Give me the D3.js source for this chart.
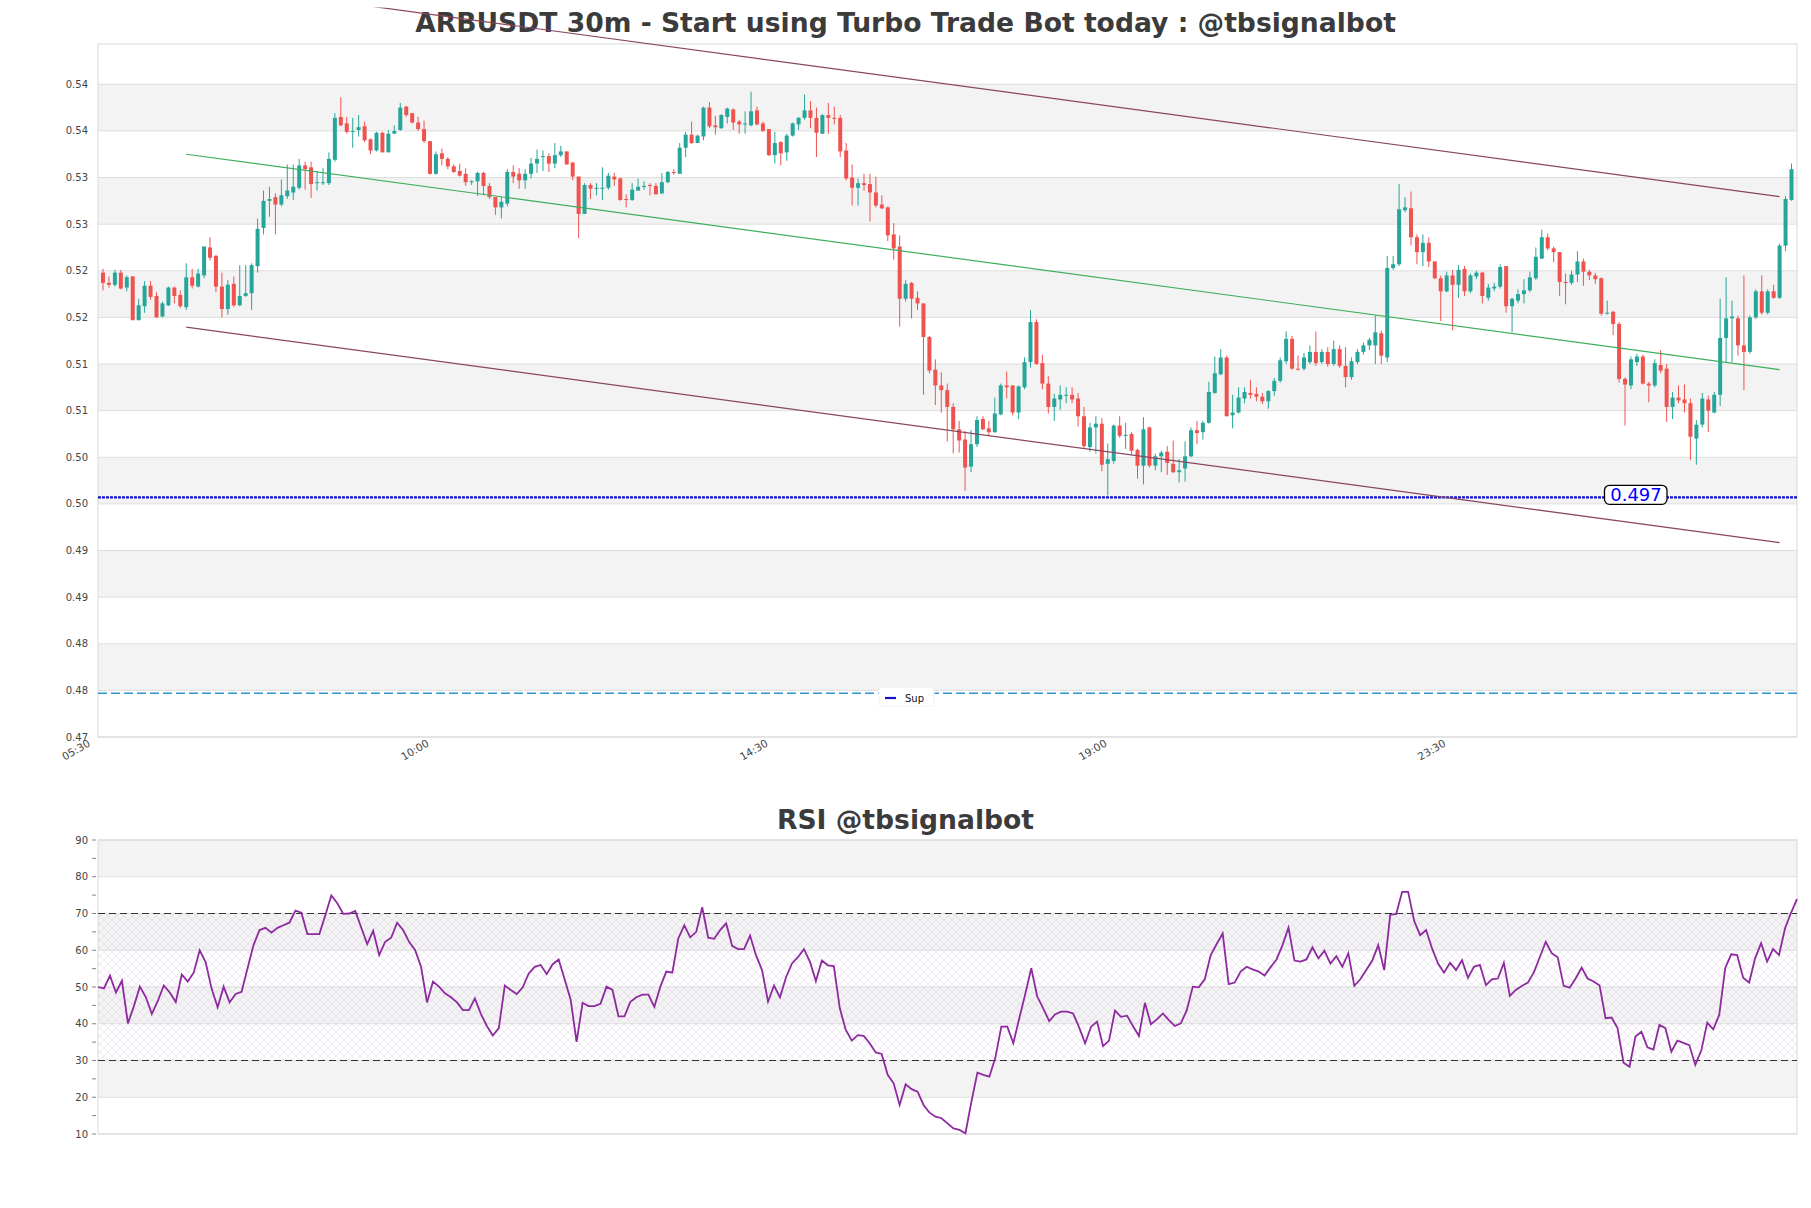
<!DOCTYPE html>
<html><head><meta charset="utf-8">
<script src="https://cdn.jsdelivr.net/npm/d3@7/dist/d3.min.js"></script>
<style>body{margin:0;background:#fff;} svg{display:block;}</style>
</head><body>
<svg id="c" width="1811" height="1208"></svg>
<script>
// ---------------- DATA ----------------
const openP = [
.5198,.5187,.5185,.5198,.5182,.5194,.5147,.5162,.5184,.5173,
.5151,.5163,.5182,.5174,.5161,.5193,.5183,.5195,.5225,.5216,
.5183,.5159,.5186,.5163,.5173,.5176,.5205,.5246,.5275,.5279,
.5271,.5280,.5284,.5289,.5313,.5311,.5294,.5294,.5294,.5319,
.5365,.5358,.5349,.5351,.5355,.5341,.5329,.5348,.5327,.5347,
.5351,.5376,.5369,.5359,.5352,.5339,.5304,.5326,.5320,.5312,
.5307,.5304,.5295,.5296,.5305,.5291,.5279,.5268,.5272,.5306,
.5304,.5297,.5304,.5315,.5322,.5323,.5315,.5324,.5328,.5316,
.5301,.5261,.5292,.5288,.5288,.5289,.5301,.5299,.5277,.5276,
.5286,.5290,.5292,.5291,.5283,.5295,.5306,.5304,.5332,.5346,
.5337,.5344,.5375,.5356,.5353,.5365,.5373,.5360,.5357,.5356,
.5372,.5358,.5352,.5324,.5338,.5327,.5345,.5357,.5364,.5372,
.5364,.5347,.5367,.5364,.5364,.5329,.5300,.5289,.5294,.5293,
.5284,.5271,.5268,.5239,.5226,.5170,.5187,.5171,.5165,.5129,
.5094,.5077,.5072,.5054,.5030,.5019,.4990,.5014,.5041,.5031,
.5027,.5046,.5077,.5077,.5048,.5075,.5102,.5145,.5101,.5079,
.5054,.5062,.5066,.5067,.5063,.5044,.5011,.5032,.5036,.4993,
.4996,.5034,.5023,.5025,.5008,.4991,.5032,.4991,.5001,.5006,
.4993,.4984,.4988,.5001,.5029,.5027,.5037,.5069,.5089,.5107,
.5045,.5048,.5063,.5069,.5068,.5065,.5060,.5071,.5082,.5103,
.5127,.5095,.5095,.5102,.5113,.5102,.5113,.5100,.5116,.5098,
.5086,.5102,.5113,.5120,.5120,.5133,.5107,.5203,.5207,.5265,
.5267,.5236,.5220,.5230,.5210,.5192,.5178,.5195,.5185,.5202,
.5178,.5194,.5198,.5171,.5181,.5183,.5205,.5162,.5168,.5175,
.5179,.5192,.5213,.5236,.5224,.5220,.5188,.5187,.5196,.5210,
.5199,.5195,.5192,.5154,.5156,.5143,.5084,.5077,.5102,.5108,
.5079,.5077,.5099,.5095,.5054,.5064,.5062,.5058,.5020,.5035,
.5062,.5048,.5067,.5128,.5149,.5149,.5120,.5113,.5150,.5178,
.5155,.5178,.5171,.5227,.5276];
const highP = [
.5202,.5194,.5201,.5201,.5195,.5194,.5170,.5189,.5189,.5177,
.5167,.5183,.5183,.5179,.5208,.5202,.5202,.5226,.5236,.5217,
.5198,.5190,.5194,.5206,.5206,.5208,.5256,.5286,.5290,.5283,
.5298,.5314,.5314,.5320,.5317,.5317,.5307,.5310,.5327,.5369,
.5386,.5365,.5364,.5367,.5360,.5342,.5349,.5349,.5351,.5356,
.5380,.5377,.5369,.5365,.5361,.5339,.5328,.5331,.5322,.5314,
.5315,.5310,.5297,.5306,.5306,.5294,.5279,.5279,.5309,.5313,
.5310,.5309,.5321,.5330,.5329,.5326,.5337,.5334,.5328,.5317,
.5301,.5294,.5294,.5294,.5311,.5305,.5305,.5300,.5282,.5294,
.5299,.5296,.5294,.5294,.5305,.5307,.5309,.5337,.5349,.5360,
.5346,.5376,.5381,.5366,.5368,.5375,.5374,.5362,.5371,.5392,
.5376,.5360,.5352,.5349,.5339,.5347,.5359,.5365,.5389,.5382,
.5375,.5368,.5380,.5376,.5367,.5337,.5314,.5299,.5304,.5304,
.5301,.5281,.5269,.5251,.5238,.5190,.5188,.5178,.5165,.5130,
.5105,.5091,.5079,.5058,.5039,.5028,.5029,.5044,.5044,.5039,
.5064,.5079,.5092,.5077,.5077,.5107,.5158,.5148,.5110,.5087,
.5068,.5077,.5075,.5075,.5069,.5054,.5037,.5044,.5042,.5015,
.5035,.5044,.5037,.5027,.5009,.5043,.5033,.5004,.5007,.5012,
.5018,.4998,.5017,.5032,.5039,.5039,.5081,.5108,.5116,.5109,
.5067,.5075,.5075,.5083,.5075,.5069,.5072,.5085,.5107,.5135,
.5130,.5109,.5112,.5120,.5135,.5116,.5118,.5125,.5120,.5118,
.5107,.5116,.5123,.5128,.5152,.5136,.5216,.5216,.5293,.5279,
.5285,.5239,.5239,.5236,.5210,.5195,.5199,.5201,.5206,.5205,
.5197,.5200,.5199,.5186,.5187,.5207,.5205,.5171,.5180,.5191,
.5199,.5225,.5244,.5240,.5226,.5220,.5197,.5200,.5221,.5213,
.5201,.5198,.5193,.5168,.5157,.5145,.5086,.5108,.5111,.5110,
.5081,.5105,.5115,.5100,.5070,.5077,.5078,.5063,.5040,.5069,
.5066,.5070,.5170,.5193,.5168,.5152,.5195,.5152,.5180,.5195,
.5180,.5185,.5229,.5280,.5315];
const lowP = [
.5179,.5182,.5183,.5180,.5178,.5147,.5147,.5155,.5169,.5150,
.5150,.5162,.5165,.5160,.5158,.5181,.5182,.5192,.5211,.5177,
.5150,.5153,.5161,.5162,.5172,.5158,.5198,.5239,.5258,.5239,
.5269,.5277,.5276,.5287,.5287,.5278,.5286,.5292,.5292,.5317,
.5355,.5347,.5332,.5344,.5338,.5325,.5328,.5327,.5327,.5347,
.5350,.5365,.5358,.5350,.5337,.5303,.5303,.5313,.5309,.5305,
.5301,.5291,.5292,.5280,.5281,.5277,.5260,.5256,.5269,.5294,
.5288,.5288,.5299,.5305,.5307,.5306,.5310,.5322,.5314,.5297,
.5235,.5261,.5277,.5281,.5276,.5287,.5291,.5275,.5268,.5275,
.5286,.5287,.5281,.5282,.5282,.5294,.5303,.5304,.5322,.5336,
.5337,.5340,.5353,.5346,.5352,.5358,.5351,.5347,.5347,.5355,
.5356,.5349,.5323,.5315,.5313,.5318,.5344,.5351,.5362,.5353,
.5322,.5347,.5347,.5357,.5322,.5297,.5270,.5270,.5286,.5253,
.5268,.5266,.5232,.5212,.5140,.5167,.5149,.5158,.5067,.5090,
.5056,.5048,.5017,.5004,.5005,.4964,.4984,.5011,.5029,.5023,
.5026,.5045,.5063,.5045,.5041,.5073,.5096,.5099,.5073,.5047,
.5039,.5051,.5058,.5058,.5033,.5010,.5006,.5004,.4985,.4959,
.4993,.5021,.5009,.5003,.4977,.4971,.4989,.4986,.4984,.4981,
.4983,.4973,.4974,.5000,.5014,.5019,.5036,.5068,.5088,.5044,
.5031,.5047,.5058,.5063,.5060,.5057,.5052,.5066,.5080,.5100,
.5094,.5093,.5093,.5100,.5098,.5100,.5097,.5098,.5096,.5075,
.5083,.5100,.5110,.5115,.5100,.5100,.5102,.5201,.5205,.5263,
.5227,.5207,.5205,.5204,.5191,.5146,.5177,.5136,.5171,.5173,
.5176,.5191,.5165,.5168,.5178,.5181,.5155,.5134,.5165,.5165,
.5177,.5190,.5213,.5222,.5209,.5173,.5164,.5185,.5188,.5184,
.5190,.5186,.5152,.5153,.5131,.5080,.5034,.5073,.5098,.5078,
.5059,.5075,.5090,.5038,.5041,.5058,.5048,.4997,.4992,.5032,
.5027,.5047,.5055,.5102,.5102,.5109,.5072,.5111,.5148,.5153,
.5153,.5170,.5170,.5221,.5275];
const closeP = [
.5187,.5185,.5198,.5181,.5193,.5147,.5163,.5184,.5172,.5150,
.5165,.5182,.5173,.5162,.5193,.5184,.5197,.5226,.5214,.5183,
.5159,.5185,.5163,.5173,.5176,.5206,.5245,.5275,.5277,.5271,
.5281,.5286,.5290,.5313,.5309,.5293,.5295,.5295,.5320,.5364,
.5356,.5349,.5350,.5354,.5340,.5329,.5348,.5327,.5347,.5350,
.5375,.5367,.5359,.5352,.5339,.5304,.5325,.5320,.5312,.5306,
.5302,.5295,.5296,.5305,.5291,.5279,.5268,.5274,.5306,.5301,
.5297,.5304,.5315,.5320,.5323,.5315,.5324,.5328,.5314,.5301,
.5261,.5292,.5288,.5289,.5289,.5302,.5298,.5276,.5276,.5287,
.5290,.5291,.5291,.5282,.5295,.5306,.5305,.5332,.5346,.5337,
.5345,.5375,.5355,.5354,.5367,.5374,.5359,.5357,.5358,.5371,
.5357,.5350,.5324,.5337,.5326,.5345,.5358,.5364,.5372,.5364,
.5348,.5367,.5364,.5363,.5328,.5299,.5289,.5294,.5292,.5284,
.5270,.5267,.5238,.5224,.5170,.5186,.5170,.5165,.5129,.5093,
.5077,.5072,.5054,.5030,.5018,.4989,.5014,.5040,.5030,.5027,
.5047,.5077,.5075,.5048,.5076,.5102,.5145,.5100,.5079,.5054,
.5063,.5067,.5067,.5062,.5044,.5012,.5032,.5036,.4992,.4998,
.5034,.5023,.5024,.5007,.4991,.5030,.4991,.5001,.5005,.4994,
.4984,.4986,.5001,.5029,.5026,.5037,.5070,.5090,.5107,.5044,
.5048,.5064,.5070,.5067,.5065,.5060,.5071,.5082,.5104,.5127,
.5095,.5094,.5107,.5113,.5101,.5113,.5100,.5116,.5098,.5086,
.5103,.5113,.5120,.5126,.5134,.5109,.5203,.5207,.5266,.5268,
.5236,.5220,.5230,.5210,.5192,.5178,.5195,.5185,.5201,.5178,
.5195,.5198,.5173,.5182,.5183,.5204,.5162,.5170,.5175,.5179,
.5193,.5215,.5236,.5224,.5220,.5188,.5187,.5196,.5210,.5199,
.5195,.5191,.5154,.5155,.5143,.5084,.5078,.5105,.5108,.5079,
.5077,.5101,.5093,.5054,.5064,.5061,.5058,.5022,.5035,.5063,
.5050,.5067,.5128,.5149,.5151,.5120,.5113,.5150,.5178,.5155,
.5178,.5171,.5227,.5277,.5309];

const xTickIdx = [0, 57, 114, 171, 228];
const xTickLabels = ["05:30", "10:00", "14:30", "19:00", "23:30"];
const yTicks = [0.470,0.475,0.480,0.485,0.490,0.495,0.500,0.505,0.510,0.515,0.520,0.525,0.530,0.535,0.540];
const yTickLabels = ["0.47","0.48","0.48","0.49","0.49","0.50","0.50","0.51","0.51","0.52","0.52","0.53","0.53","0.54","0.54"];

// regression channel (candle index, centre price) and half width
const channelIdx = [14, 282];
const channelMid = [0.5325, 0.5094];
const channelHalf = 0.01855;

const supportLevel = 0.4957;
const supportLabel = "0.497";
const sup2Level = 0.4747;

const rsi = [
50,49.6,53.1,48.5,51.7,40.1,44.8,50.1,47.2,42.7,
46.2,50.4,48.5,45.9,53.4,51.5,53.9,60.0,56.7,49.5,
44.5,50.1,45.8,48.1,48.7,55.1,61.4,65.5,66.1,64.8,
66.1,66.8,67.5,70.8,70.2,64.4,64.4,64.4,69.5,74.9,
72.8,69.9,70.0,70.7,66.2,61.7,65.3,58.7,62.3,63.4,
67.5,65.5,62.3,60.1,55.5,45.8,51.5,50.1,48.3,47.2,
45.8,43.7,43.7,46.9,42.7,39.4,36.8,38.8,50.4,49.2,
48.1,49.9,53.7,55.5,56.0,53.5,56.2,57.5,52.1,46.6,
35.1,45.7,44.8,44.8,45.4,
50.1,49.2,42.0,42.0,46.0,47.2,47.9,47.9,44.6,50.1,
54.2,53.9,63.2,66.8,63.5,65.0,71.7,63.4,63.1,65.5,
67.3,61.2,60.3,60.3,64.0,58.6,54.6,46.0,50.4,47.2,
52.6,56.4,58.1,60.3,56.9,51.6,57.2,55.9,55.7,44.2,
38.3,35.4,36.9,36.7,34.7,32.2,31.8,26.1,23.8,17.9,
23.5,22.2,21.5,17.9,15.8,14.7,14.3,12.9,11.5,11.1,
10.2,18.8,26.7,26.1,25.6,30.8,39.2,39.2,34.7,41.5,
48.1,55.1,47.4,44.2,40.7,42.6,43.3,43.3,42.8,39.0,
34.7,39.2,40.6,33.9,35.4,43.6,41.9,42.2,39.4,36.7,
45.7,39.9,41.2,42.8,41.0,39.4,40.1,43.7,50.1,49.9,
52.1,58.7,61.7,64.6,50.8,51.2,54.2,55.5,54.8,54.2,
53.1,55.4,57.5,61.4,66.2,57.2,56.9,57.5,60.8,57.8,
59.9,56.4,58.4,55.5,59.2,50.3,52.1,54.6,57.2,61.4,
54.6,69.6,69.9,75.9,75.9,68.0,64.1,65.5,60.5,56.4,
53.9,56.6,54.6,57.3,52.5,55.5,56.0,50.5,52.1,52.3,
56.6,47.6,49.2,50.3,51.2,53.9,58.1,62.3,59.2,58.1,
50.3,49.8,52.3,55.3,52.3,51.5,50.4,41.5,41.7,38.8,
29.4,28.3,36.5,37.8,33.6,33.0,39.7,38.8,32.4,35.4,
34.8,34.2,28.8,32.7,40.3,38.5,42.4,55.1,58.9,58.7,
52.5,51.2,57.8,61.9,56.9,60.3,58.7,66.0,70.2,73.9];
const rsiTicks = [10,20,30,40,50,60,70,80,90];
const rsiMinor = [15,25,35,45,55,65,75,85];
const rsiLevels = [30, 70];

// ---------------- DRAW ----------------
const FONT = "'DejaVu Sans', 'Liberation Sans', sans-serif";
const svg = d3.select("#c");
const defs = svg.append("defs");
const pat = defs.append("pattern").attr("id","hatch").attr("width",8).attr("height",8)
  .attr("patternUnits","userSpaceOnUse");
pat.append("path").attr("d","M0,0 L8,8 M8,0 L0,8 M-1,7 L1,9 M7,-1 L9,1")
  .attr("stroke","#d2c4dc").attr("stroke-width",0.55).attr("fill","none");
defs.append("clipPath").attr("id","topclip").append("rect")
  .attr("x",0).attr("y",7.5).attr("width",1811).attr("height",1200);

const M = {l:98, r:1797, t:44, b:737};
const x = d3.scaleLinear().domain([0, closeP.length - 1]).range([103, 1791.5]);
const y = d3.scaleLinear().domain([yTicks[0], yTicks[yTicks.length-1]]).range([737, 84.3]);

svg.append("text").attr("x", 905.5).attr("y", 32).attr("text-anchor","middle")
  .attr("font-family", FONT).attr("font-weight","bold").attr("font-size", 26.6)
  .attr("fill", "#3b3b3b")
  .text("ARBUSDT 30m - Start using Turbo Trade Bot today : @tbsignalbot");

const gMain = svg.append("g");
// bands
for (let k = 0; k < yTicks.length - 1; k++) {
  if (k % 2 === 1) {
    gMain.append("rect").attr("x", M.l).attr("width", M.r - M.l)
      .attr("y", y(yTicks[k+1])).attr("height", y(yTicks[k]) - y(yTicks[k+1]))
      .attr("fill", "#f3f3f3");
  }
}
// grid
gMain.selectAll("line.grid").data(yTicks).join("line")
  .attr("x1", M.l).attr("x2", M.r).attr("y1", d => y(d)).attr("y2", d => y(d))
  .attr("stroke", "#dedede").attr("stroke-width", 1);
gMain.append("rect").attr("x", M.l).attr("y", M.t).attr("width", M.r - M.l).attr("height", M.b - M.t)
  .attr("fill","none").attr("stroke","#d9d9d9").attr("stroke-width",1);
// y labels
gMain.selectAll("text.yl").data(yTicks).join("text")
  .attr("x", 88).attr("y", d => y(d) + 3.5).attr("text-anchor","end")
  .attr("font-family", FONT).attr("font-size", 10).attr("fill","#444")
  .text((d,i) => yTickLabels[i]);
// x labels
gMain.selectAll("text.xl").data(xTickIdx).join("text")
  .attr("text-anchor","end").attr("font-family", FONT).attr("font-size", 10.5).attr("fill","#444")
  .attr("transform", d => `translate(${x(d) - 12},745.5) rotate(-30)`)
  .text((d,i) => xTickLabels[i]);

// support lines
gMain.append("line").attr("x1", M.l).attr("x2", M.r)
  .attr("y1", y(sup2Level)).attr("y2", y(sup2Level))
  .attr("stroke", "#2a96d2").attr("stroke-width", 1.4).attr("stroke-dasharray","9,4");
gMain.append("line").attr("x1", M.l).attr("x2", M.r)
  .attr("y1", y(supportLevel)).attr("y2", y(supportLevel))
  .attr("stroke", "#1212c8").attr("stroke-width", 2.2).attr("stroke-dasharray","3,1");

// candles
const idx = d3.range(closeP.length);
const colorOf = i => closeP[i] >= openP[i] ? "#26a69a" : "#ef5350";
gMain.append("g").selectAll("line").data(idx).join("line")
  .attr("x1", i => x(i)).attr("x2", i => x(i))
  .attr("y1", i => y(highP[i])).attr("y2", i => y(lowP[i]))
  .attr("stroke", colorOf).attr("stroke-width", 1);
gMain.append("g").selectAll("rect").data(idx).join("rect")
  .attr("x", i => x(i) - 2).attr("width", 4)
  .attr("y", i => y(Math.max(openP[i], closeP[i])))
  .attr("height", i => Math.max(1, Math.abs(y(openP[i]) - y(closeP[i]))))
  .attr("fill", colorOf);

// channel
const gCh = svg.append("g").attr("clip-path","url(#topclip)");
const chLine = off => gCh.append("line")
  .attr("x1", x(channelIdx[0])).attr("x2", x(channelIdx[1]))
  .attr("y1", y(channelMid[0] + off)).attr("y2", y(channelMid[1] + off));
chLine(channelHalf).attr("stroke","#8a4660").attr("stroke-width",1.2);
chLine(-channelHalf).attr("stroke","#8a4660").attr("stroke-width",1.2);
chLine(0).attr("stroke","#3fae5e").attr("stroke-width",1.2);

// support label
const ly = y(supportLevel);
svg.append("rect").attr("x", 1604.5).attr("y", ly - 12).attr("width", 62.5).attr("height", 19)
  .attr("rx", 5).attr("fill","#fff").attr("stroke","#000").attr("stroke-width",1.3);
svg.append("text").attr("x", 1636).attr("y", ly + 3.7).attr("text-anchor","middle")
  .attr("font-family", FONT).attr("font-size", 18).attr("fill","#0000ff").text(supportLabel);

// legend
svg.append("rect").attr("x", 879).attr("y", 687).attr("width", 55).attr("height", 19)
  .attr("rx", 3).attr("fill","#fff").attr("stroke","#f0f0f0");
svg.append("line").attr("x1", 885).attr("x2", 896).attr("y1", 698).attr("y2", 698)
  .attr("stroke","#1212c8").attr("stroke-width", 2.2);
svg.append("text").attr("x", 905).attr("y", 701.5).attr("font-family", FONT).attr("font-size", 10)
  .attr("fill","#111").text("Sup");

// ---------------- RSI ----------------
const R = {l:98, r:1797, t:840, b:1134};
const rx = d3.scaleLinear().domain([0, rsi.length - 1]).range([R.l, R.r]);
const ry = d3.scaleLinear().domain([10, 90]).range([R.b, R.t]);
svg.append("text").attr("x", 905.5).attr("y", 829).attr("text-anchor","middle")
  .attr("font-family", FONT).attr("font-weight","bold").attr("font-size", 26.6)
  .attr("fill", "#3b3b3b").text("RSI @tbsignalbot");
const gR = svg.append("g");
for (let k = 0; k < rsiTicks.length - 1; k++) {
  if (k % 2 === 1) {
    gR.append("rect").attr("x", R.l).attr("width", R.r - R.l)
      .attr("y", ry(rsiTicks[k+1])).attr("height", ry(rsiTicks[k]) - ry(rsiTicks[k+1]))
      .attr("fill", "#f3f3f3");
  }
}
gR.selectAll("line.g").data(rsiTicks).join("line")
  .attr("x1", R.l).attr("x2", R.r).attr("y1", d => ry(d)).attr("y2", d => ry(d))
  .attr("stroke","#dedede");
gR.append("rect").attr("x", R.l).attr("width", R.r - R.l)
  .attr("y", ry(rsiLevels[1])).attr("height", ry(rsiLevels[0]) - ry(rsiLevels[1]))
  .attr("fill","url(#hatch)").attr("opacity", 0.7);
gR.append("rect").attr("x", R.l).attr("y", R.t).attr("width", R.r - R.l).attr("height", R.b - R.t)
  .attr("fill","none").attr("stroke","#d9d9d9");
gR.selectAll("line.lv").data(rsiLevels).join("line")
  .attr("x1", R.l).attr("x2", R.r).attr("y1", d => ry(d)).attr("y2", d => ry(d))
  .attr("stroke","#333").attr("stroke-width",1.1).attr("stroke-dasharray","7,4");
gR.selectAll("text.yl").data(rsiTicks).join("text")
  .attr("x", 88).attr("y", d => ry(d) + 3.5).attr("text-anchor","end")
  .attr("font-family", FONT).attr("font-size", 10).attr("fill","#444").text(d => d);
gR.selectAll("line.tk").data(rsiTicks.concat(rsiMinor)).join("line")
  .attr("x1", 92).attr("x2", 96).attr("y1", d => ry(d)).attr("y2", d => ry(d))
  .attr("stroke","#666").attr("stroke-width",0.8);
gR.append("path").datum(rsi)
  .attr("d", d3.line().x((d,i) => rx(i)).y(d => ry(d)))
  .attr("fill","none").attr("stroke","#8e2a9f").attr("stroke-width",1.8);
</script>
</body></html>
